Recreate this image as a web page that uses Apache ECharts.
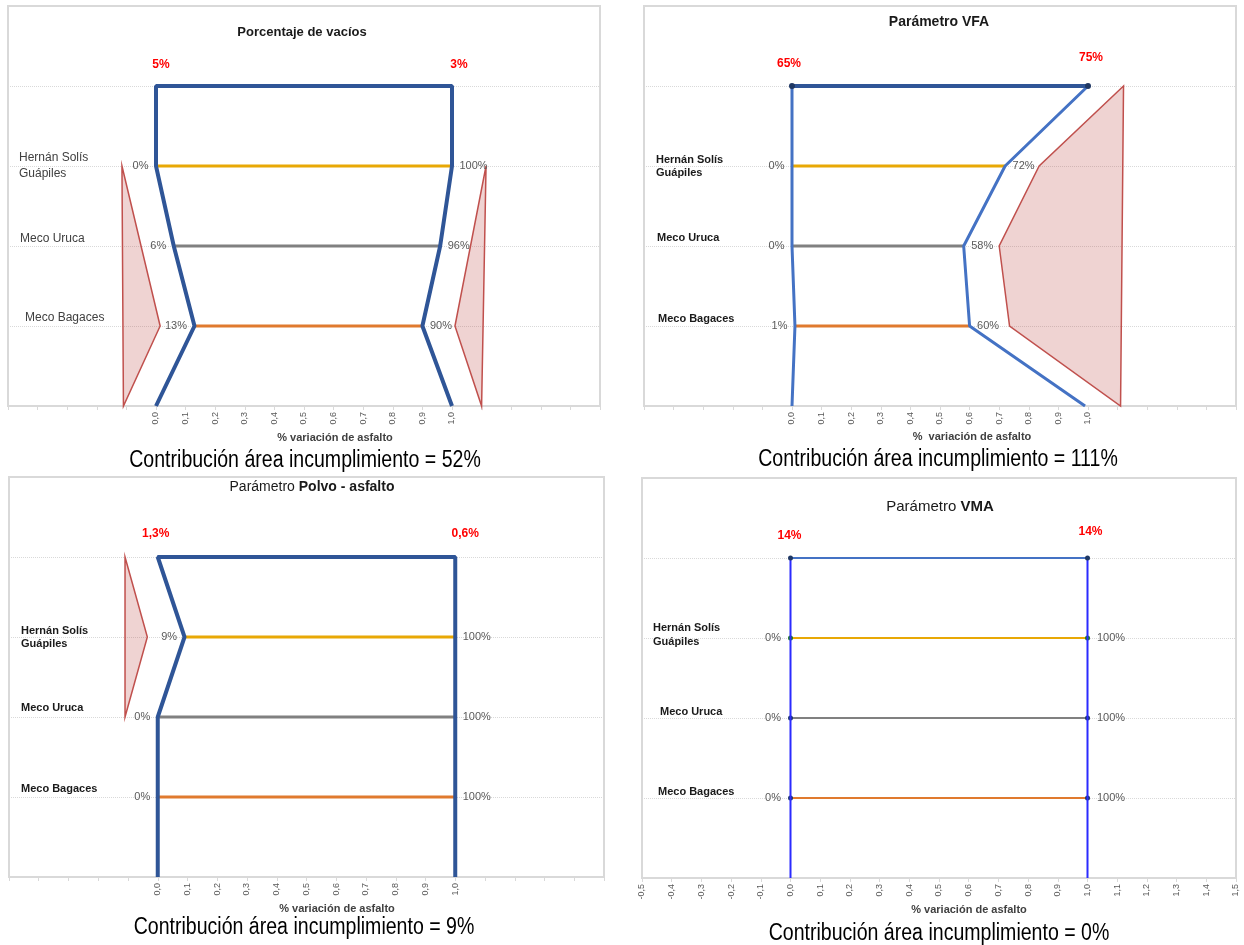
<!DOCTYPE html>
<html><head><meta charset="utf-8">
<script src="https://cdn.jsdelivr.net/npm/echarts@6/dist/echarts.min.js"></script>
<style>html,body{margin:0;padding:0;background:#fff}#c{width:1244px;height:945px}</style>
</head><body><div id="c"></div>
<script>
// ================= DATA =================
const categories = ['Hernán Solís\nGuápiles', 'Meco Uruca', 'Meco Bagaces'];
const limitPos = [0, 1];                 // % variación de asfalto at the two specification limits
const axisTitle = '% variación de asfalto';
const captionText = 'Contribución área incumplimiento = ';

// Panel 1 – Porcentaje de vacíos
const vaciosTitle = ['', 'Porcentaje de vacíos'];
const vaciosLimits = ['5%', '3%'];
const vaciosMin = [0.00, 0.06, 0.13];
const vaciosMax = [1.00, 0.96, 0.90];
const vaciosBase = [0.00, 1.00];
const vaciosFailLeft = [[-0.115, 3], [0.014, 1], [-0.11, 0]];
const vaciosFailRight = [[1.115, 3], [1.01, 1], [1.10, 0]];
const vaciosContribution = '52%';

// Panel 2 – Parámetro VFA
const vfaTitle = ['', 'Parámetro VFA'];
const vfaLimits = ['65%', '75%'];
const vfaMin = [0.00, 0.00, 0.01];
const vfaMax = [0.72, 0.58, 0.60];
const vfaBase = [0.00, 0.99];
const vfaFail = [[1.12, 4], [0.835, 3], [0.70, 2], [0.735, 1], [1.11, 0]];
const vfaContribution = '111%';

// Panel 3 – Parámetro Polvo - asfalto
const polvoTitle = ['Parámetro', 'Polvo - asfalto'];
const polvoLimits = ['1,3%', '0,6%'];
const polvoMin = [0.09, 0.00, 0.00];
const polvoMax = [1.00, 1.00, 1.00];
const polvoBase = [0.00, 1.00];
const polvoFail = [[-0.11, 4], [-0.035, 3], [-0.11, 2]];
const polvoContribution = '9%';

// Panel 4 – Parámetro VMA
const vmaTitle = ['Parámetro', 'VMA'];
const vmaLimits = ['14%', '14%'];
const vmaMin = [0.00, 0.00, 0.00];
const vmaMax = [1.00, 1.00, 1.00];
const vmaBase = [0.00, 1.00];
const vmaContribution = '0%';

// ================= BUILD =================
const N = categories.length;
const TOP = N + 1;
const YMAX = N + 2;
const FONT = "'Liberation Sans', Arial, sans-serif";
const catColors = ['#E8A805', '#808080', '#E07A2E'];

function envelope(minArr, maxArr, base) {
  const pts = [[base[0], 0]];
  for (let i = N - 1; i >= 0; i--) pts.push([minArr[i], N - i]);
  pts.push([limitPos[0], TOP], [limitPos[1], TOP]);
  for (let i = 0; i < N; i++) pts.push([maxArr[i], N - i]);
  pts.push([base[1], 0]);
  return pts;
}

const panels = [
  {title: vaciosTitle, limits: vaciosLimits, min: vaciosMin, max: vaciosMax, base: vaciosBase, fail: [vaciosFailLeft, vaciosFailRight], contribution: vaciosContribution, axisName: axisTitle},
  {title: vfaTitle, limits: vfaLimits, min: vfaMin, max: vfaMax, base: vfaBase, fail: [vfaFail], contribution: vfaContribution, axisName: axisTitle.replace(' ', '  ')},
  {title: polvoTitle, limits: polvoLimits, min: polvoMin, max: polvoMax, base: polvoBase, fail: [polvoFail], contribution: polvoContribution, axisName: axisTitle},
  {title: vmaTitle, limits: vmaLimits, min: vmaMin, max: vmaMax, base: vmaBase, fail: [], contribution: vmaContribution, axisName: axisTitle}
];

const styles = [
  {grid: {left: 8, top: 6, width: 592, height: 400}, allLabels: false,
   env: ['#2F5597', 4], top: ['#2F5597', 4, 0], lineW: 3, lineDots: null,
   cat: {fontSize: 12, fontWeight: 'normal', color: '#404040'}, catLH: 16, catMargin: 11,
   catPad: [[0, 0, 0, 0], [0, 0, 14, 1], [0, 0, 16, 6]],
   limOff: [[5, 0], [7, 0]],
   titleSize: [13, 13], titlePos: [302, 32], capPos: [305, 461], axisPos: [335, 438]},
  {grid: {left: 644, top: 6, width: 592, height: 400}, allLabels: false,
   env: ['#4472C4', 3], top: ['#2F5597', 4, 6], lineW: 3, lineDots: null,
   cat: {fontSize: 11, fontWeight: 'bold', color: '#1a1a1a'}, catLH: 13, catMargin: 12,
   catPad: [[0, 0, 0, 0], [0, 0, 16, 1], [0, 0, 14, 2]],
   limOff: [[-3, 2], [3, -4]],
   titleSize: [14, 14], titlePos: [939, 22], capPos: [938, 460], axisPos: [972, 437]},
  {grid: {left: 9, top: 477, width: 595, height: 400}, allLabels: false,
   env: ['#2F5597', 4], top: ['#2F5597', 4, 0], lineW: 3, lineDots: null,
   cat: {fontSize: 11, fontWeight: 'bold', color: '#1a1a1a'}, catLH: 13, catMargin: 12,
   catPad: [[0, 0, 0, 0], [0, 0, 18, 0], [0, 0, 16, 0]],
   limOff: [[-2, -2], [10, -2]],
   titleSize: [14, 14], titlePos: [312, 487], capPos: [304, 928], axisPos: [337, 909]},
  {grid: {left: 642, top: 478, width: 594, height: 400}, allLabels: true,
   env: ['#2B2BFF', 2], top: ['#4472C4', 2, 5], lineW: 2, lineDots: ['#1E7B1E', '#1F3864', '#1F3864'],
   cat: {fontSize: 11, fontWeight: 'bold', color: '#1a1a1a'}, catLH: 14, catMargin: 11,
   catPad: [[0, 0, 6, 0], [0, 0, 12, 7], [0, 0, 12, 5]],
   limOff: [[-1, 1], [3, -3]],
   titleSize: [15, 15], titlePos: [940, 507], capPos: [939, 934], axisPos: [969, 910]}
];

const grid = [], xAxis = [], yAxis = [], series = [], graphic = [];
const fmt = v => v.toFixed(1).replace('.', ',');

panels.forEach((p, k) => {
  const st = styles[k];
  grid.push(Object.assign({show: true, borderColor: '#D9D9D9', borderWidth: 2, containLabel: false}, st.grid));
  xAxis.push({
    gridIndex: k, type: 'value', min: -0.5, max: 1.5, interval: 0.1,
    axisLine: {show: true, onZero: false, lineStyle: {color: '#D9D9D9', width: 2}},
    axisTick: {show: true, length: 4, lineStyle: {color: '#D9D9D9'}},
    splitLine: {show: false},
    axisLabel: {rotate: 90, fontSize: 9, color: '#595959', margin: 6, fontFamily: FONT,
      showMinLabel: true, showMaxLabel: true,
      formatter: v => (st.allLabels || (v > -0.001 && v < 1.001)) ? fmt(v) : ''}
  });
  const rich = {};
  categories.forEach((c, i) => {
    rich['c' + i] = Object.assign({fontFamily: FONT, lineHeight: st.catLH, padding: st.catPad[i]}, st.cat);
  });
  yAxis.push({
    gridIndex: k, type: 'value', min: 0, max: YMAX, interval: 1,
    axisLine: {show: false}, axisTick: {show: false},
    splitLine: {show: true, lineStyle: {color: '#D9D9D9', type: 'dotted', width: 1}},
    axisLabel: {inside: true, margin: st.catMargin, align: 'left', rich: rich,
      formatter: v => { const i = N - v; return (i >= 0 && i < N) ? '{c' + i + '|' + categories[i] + '}' : ''; }}
  });

  // failure areas
  p.fail.forEach(poly => {
    series.push({
      type: 'custom', xAxisIndex: k, yAxisIndex: k, z: 1, silent: true,
      data: poly, encode: {x: 0, y: 1},
      renderItem: (params, api) => {
        if (params.dataIndex !== 0) return;
        return {type: 'polygon', shape: {points: poly.map(pt => api.coord(pt))},
          style: {fill: 'rgba(192,80,77,0.25)', stroke: '#C0504D', lineWidth: 1.5}};
      }
    });
  });

  // category lines
  categories.forEach((c, i) => {
    const lv = N - i;
    const dot = st.lineDots ? st.lineDots[i] : catColors[i];
    series.push({
      type: 'line', xAxisIndex: k, yAxisIndex: k, z: 3, silent: true,
      data: [{value: [p.min[i], lv], label: {position: 'left'}}, {value: [p.max[i], lv], label: {position: 'right'}}],
      lineStyle: {color: catColors[i], width: st.lineW},
      symbol: 'circle', symbolSize: st.lineDots ? 5 : 1, itemStyle: {color: dot},
      label: {show: true, distance: 7, color: '#595959', fontSize: 11, fontFamily: FONT,
        formatter: q => Math.round(q.value[0] * 100) + '%'}
    });
  });

  // envelope
  series.push({
    type: 'line', xAxisIndex: k, yAxisIndex: k, z: 4, silent: true,
    data: envelope(p.min, p.max, p.base), symbol: 'none',
    lineStyle: {color: st.env[0], width: st.env[1]}
  });

  // limit line with specification values
  series.push({
    type: 'line', xAxisIndex: k, yAxisIndex: k, z: 5, silent: true,
    data: limitPos.map((x, j) => ({value: [x, TOP], label: {offset: st.limOff[j]}})),
    lineStyle: {color: st.top[0], width: st.top[1]},
    symbol: 'circle', symbolSize: st.top[2] || 1, itemStyle: {color: st.top[2] ? '#1F3864' : st.top[0]},
    label: {show: true, position: 'top', distance: 15, color: '#FF0000', fontSize: 12, fontWeight: 'bold', fontFamily: FONT,
      formatter: q => p.limits[q.dataIndex]}
  });

  // texts
  const tParts = p.title;
  const tText = (tParts[0] ? '{n|' + tParts[0] + '} ' : '') + '{b|' + tParts[1] + '}';
  graphic.push({type: 'text', x: st.titlePos[0], y: st.titlePos[1], silent: true,
    style: {text: tText, align: 'center', verticalAlign: 'middle', fontFamily: FONT, fontSize: st.titleSize[1],
      rich: {n: {fontFamily: FONT, fontSize: st.titleSize[0], fontWeight: 'normal', fill: '#1a1a1a'},
             b: {fontFamily: FONT, fontSize: st.titleSize[1], fontWeight: 'bold', fill: '#1a1a1a'}}}});
  graphic.push({type: 'text', x: st.axisPos[0], y: st.axisPos[1], silent: true,
    style: {text: p.axisName, align: 'center', verticalAlign: 'middle', fontFamily: FONT, fontSize: 11, fontWeight: 'bold', fill: '#404040'}});
  graphic.push({type: 'text', x: st.capPos[0], y: st.capPos[1], scaleX: 0.85, silent: true,
    style: {text: captionText + p.contribution, align: 'center', verticalAlign: 'middle', fontFamily: FONT, fontSize: 23, fill: '#000'}});
});

const chart = echarts.init(document.getElementById('c'), null, {renderer: 'canvas'});
chart.setOption({
  animation: false,
  backgroundColor: '#fff',
  grid, xAxis, yAxis, series, graphic
});
</script>
</body></html>
